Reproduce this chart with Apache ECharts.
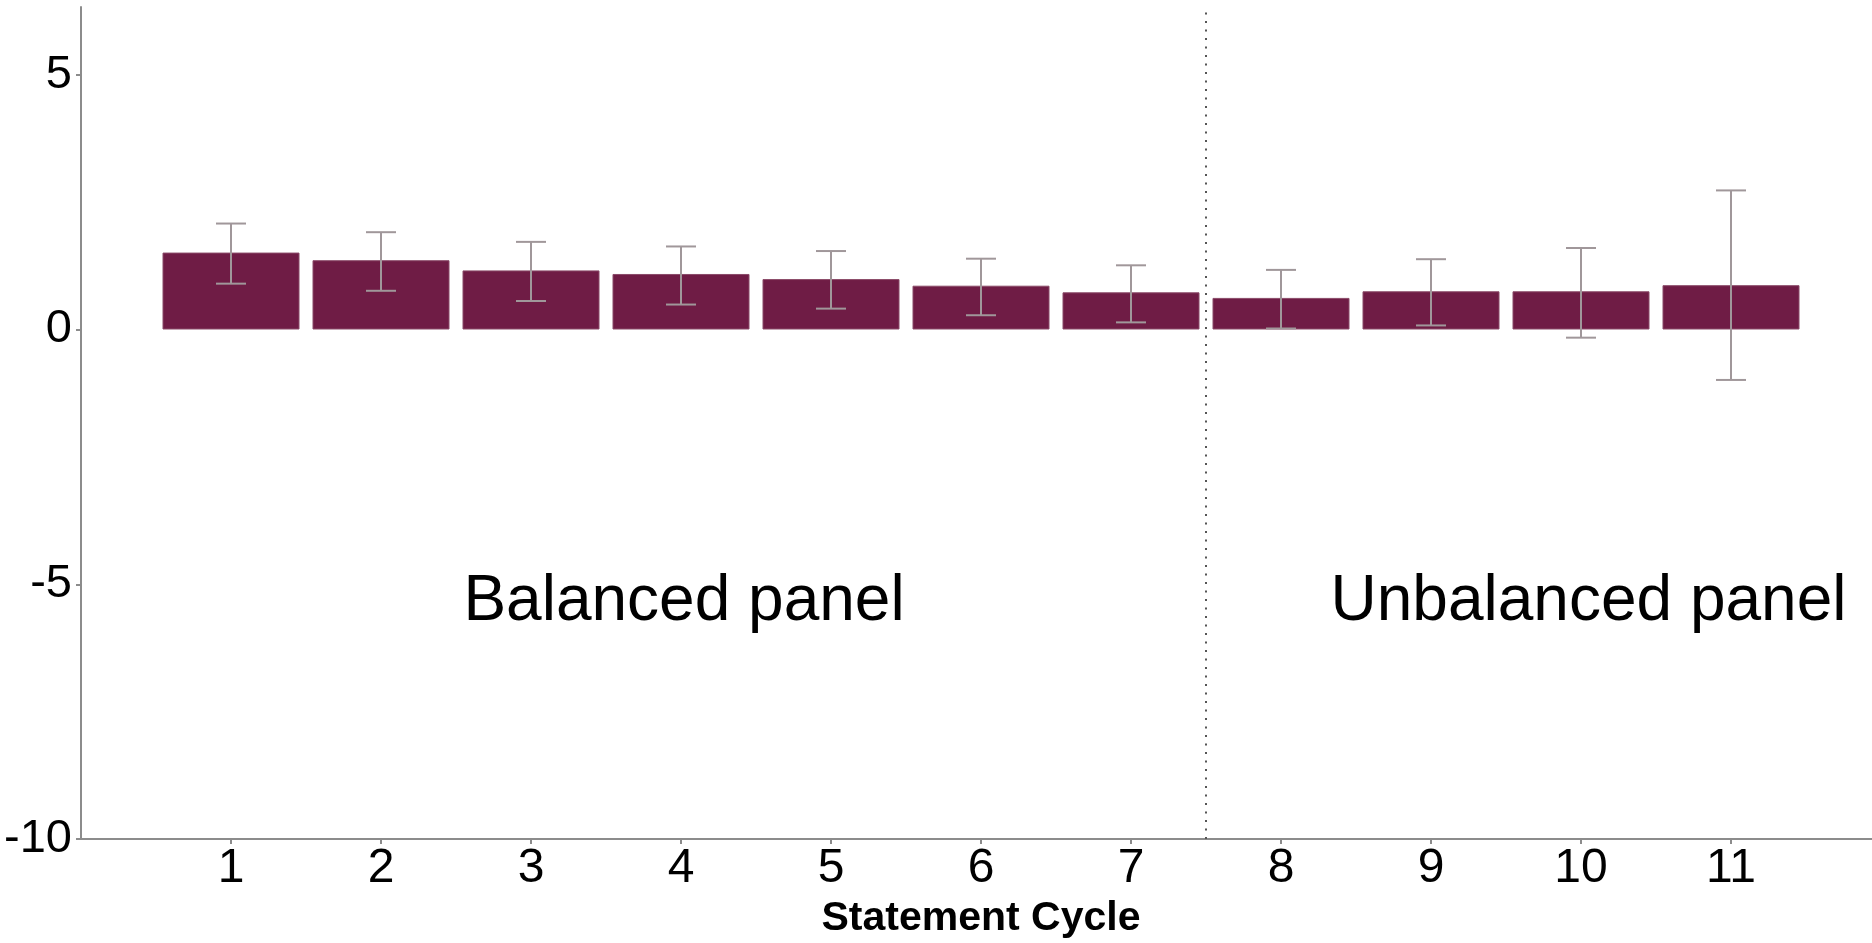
<!DOCTYPE html>
<html>
<head>
<meta charset="utf-8">
<title>Statement Cycle</title>
<script src="https://cdn.jsdelivr.net/npm/echarts@6/dist/echarts.min.js"></script>
<style>
  html, body { margin: 0; padding: 0; background: #ffffff; }
  #chart { width: 1872px; height: 943px; }
</style>
</head>
<body>
<div id="chart"></div>
<script>
// Statement cycles and the estimated effect per cycle, with confidence bounds
const cycles = [1, 2, 3, 4, 5, 6, 7, 8, 9, 10, 11];
const estimates = [1.51, 1.36, 1.16, 1.09, 0.99, 0.86, 0.73, 0.62, 0.75, 0.75, 0.87];
const lowerBounds = [0.90, 0.76, 0.56, 0.49, 0.41, 0.28, 0.14, 0.02, 0.08, -0.16, -0.99];
const upperBounds = [2.08, 1.91, 1.72, 1.63, 1.54, 1.39, 1.26, 1.17, 1.38, 1.60, 2.73];

// Axis ticks
const yTicks = [-10, -5, 0, 5];
const xTicks = cycles;

// Split between the balanced and unbalanced panels
const panelSplit = 7.5;
const panelLabels = ['Balanced panel', 'Unbalanced panel'];
const panelLabelX = [4.02, 10.05];
const panelLabelY = [-5.35, -5.35];

const sans = "'Liberation Sans', Arial, Helvetica, sans-serif";
const axisGray = '#8c8c8c';

const chart = echarts.init(document.getElementById('chart'), null, { renderer: 'canvas' });

const barData = cycles.map((c, i) => [c, estimates[i]]);
const errData = cycles.map((c, i) => [c, lowerBounds[i], upperBounds[i]]);
const labelData = panelLabels.map((t, i) => [panelLabelX[i], panelLabelY[i], t]);

chart.setOption({
  animation: false,
  backgroundColor: '#ffffff',
  grid: {
    left: 81, right: -9, top: 7, bottom: 104,
    containLabel: false,
    outerBoundsMode: 'none'
  },
  xAxis: {
    type: 'value',
    min: 0,
    max: 12,
    interval: 1,
    name: 'Statement Cycle',
    nameLocation: 'middle',
    nameGap: 50,
    nameTextStyle: {
      fontFamily: sans,
      fontWeight: 'bold',
      fontSize: 41,
      color: '#000000',
      verticalAlign: 'top'
    },
    splitLine: { show: false },
    axisLine: { show: true, onZero: false, lineStyle: { color: axisGray, width: 2 } },
    axisTick: { show: true, length: 5, customValues: xTicks, lineStyle: { color: axisGray, width: 2 } },
    axisLabel: {
      customValues: xTicks,
      margin: 6,
      fontFamily: sans,
      fontSize: 48,
      color: '#000000'
    }
  },
  yAxis: {
    type: 'value',
    min: -10,
    max: 6.33,
    interval: 5,
    splitLine: { show: false },
    axisLine: { show: true, onZero: false, lineStyle: { color: axisGray, width: 2 } },
    axisTick: { show: true, length: 5, customValues: yTicks, lineStyle: { color: axisGray, width: 2 } },
    axisLabel: {
      customValues: yTicks,
      margin: 9,
      fontFamily: sans,
      fontSize: 47,
      color: '#000000'
    }
  },
  series: [
    {
      type: 'bar',
      data: barData,
      barWidth: 137,
      itemStyle: { color: '#6f1c45', borderColor: '#8a4a68', borderWidth: 1 },
      markLine: {
        silent: true,
        symbol: 'none',
        label: { show: false },
        lineStyle: { color: '#555555', width: 2, type: [2, 6.5] },
        data: [{ xAxis: panelSplit }]
      },
      z: 2
    },
    {
      type: 'custom',
      data: errData,
      z: 3,
      renderItem: function (params, api) {
        const x = api.value(0);
        const lo = api.coord([x, api.value(1)]);
        const hi = api.coord([x, api.value(2)]);
        const half = 15;
        const style = { stroke: '#a0979a', lineWidth: 2, fill: null };
        return {
          type: 'group',
          children: [
            { type: 'line', shape: { x1: lo[0], y1: lo[1], x2: hi[0], y2: hi[1] }, style: style },
            { type: 'line', shape: { x1: hi[0] - half, y1: hi[1], x2: hi[0] + half, y2: hi[1] }, style: style },
            { type: 'line', shape: { x1: lo[0] - half, y1: lo[1], x2: lo[0] + half, y2: lo[1] }, style: style }
          ]
        };
      }
    },
    {
      type: 'custom',
      data: labelData,
      z: 4,
      renderItem: function (params, api) {
        const p = api.coord([api.value(0), api.value(1)]);
        return {
          type: 'text',
          x: p[0],
          y: p[1],
          style: {
            text: labelData[params.dataIndex][2],
            fontFamily: sans,
            fontSize: 64,
            fill: '#000000',
            align: 'center',
            verticalAlign: 'middle'
          }
        };
      }
    }
  ]
});
</script>
</body>
</html>
